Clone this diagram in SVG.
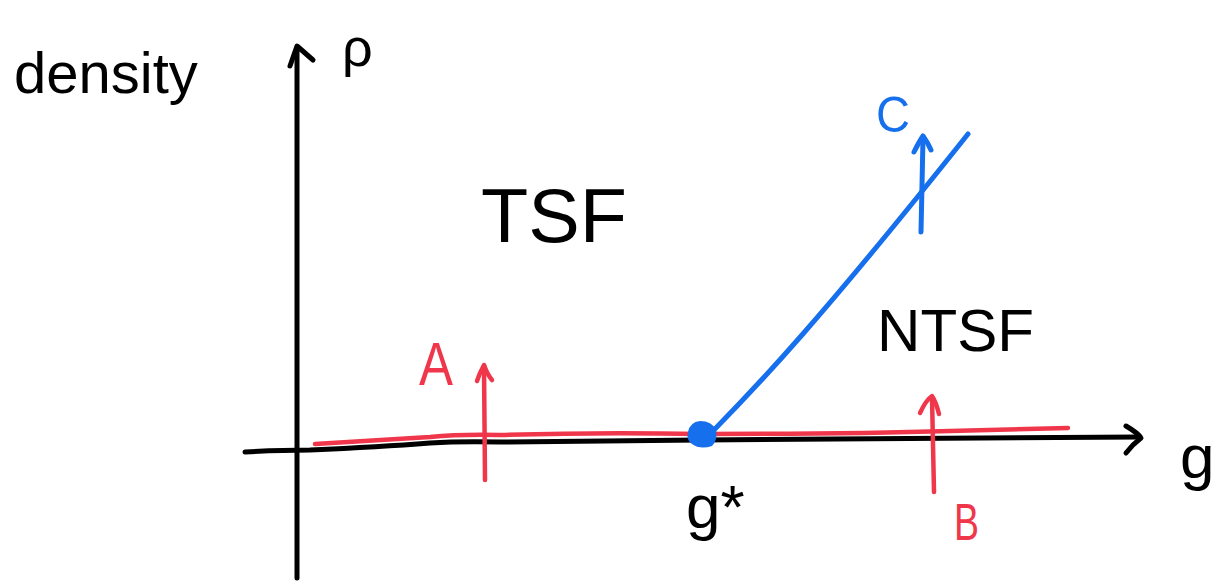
<svg xmlns="http://www.w3.org/2000/svg" width="1222" height="584" viewBox="0 0 1222 584">
<style>
.k{fill:none;stroke:#000;stroke-width:5;stroke-linecap:round;stroke-linejoin:round}
.r{fill:none;stroke:#f0364a;stroke-width:4.5;stroke-linecap:round;stroke-linejoin:round}
.b{fill:none;stroke:#1670ee;stroke-width:5;stroke-linecap:round;stroke-linejoin:round}
.t{font-family:"Liberation Sans",Arial,sans-serif}
</style>
<rect width="1222" height="584" fill="#fff"/>
<g id="labels">
<text class="t" x="14" y="93" font-size="58" fill="#000">density</text>
<text class="t" x="342" y="66" font-size="54" fill="#000">ρ</text>
<text class="t" x="481" y="242" font-size="76" fill="#000" textLength="146" lengthAdjust="spacingAndGlyphs">TSF</text>
<text class="t" x="877" y="351" font-size="60" fill="#000" textLength="157" lengthAdjust="spacingAndGlyphs">NTSF</text>
<text class="t" x="686" y="528" font-size="62" fill="#000">g*</text>
<text class="t" x="1180" y="478" font-size="62" fill="#000">g</text>
</g>
<g id="connectors">
<g id="axes">
<path class="k" d="M297 578 L297 48"/>
<path class="k" d="M290 66 L297 46 L313 60"/>
<path class="k" d="M245 452 Q280 450 310 450 Q380 447 430 443 Q460 441 500 442 L700 440 L1140 437"/>
<path class="k" d="M1126 426 Q1138 433 1141 438 Q1133 444 1126 453"/>
</g>
<g id="red-line">
<path class="r" d="M315 444 Q380 440 430 437 Q460 434 500 435 Q600 432 700 434 Q850 434 950 431 L1068 428"/>
</g>
<g id="blue-curve">
<path class="b" d="M713 431 C760 383 820 320 968 134"/>
</g>
</g>
<g id="point-gstar">
<path d="M688 432 Q690 422 700 421 Q712 421 716 430 Q718 440 712 446 Q700 450 692 444 Q686 440 688 432 Z" fill="#1670ee"/>
</g>
<g id="arrow-A">
<path class="r" d="M485 480 L484 366"/>
<path class="r" d="M477 381 Q480 372 484 365 Q487 374 492 380"/>
<text class="t" x="419" y="385" font-size="62" fill="#f0364a" textLength="34" lengthAdjust="spacingAndGlyphs">A</text>
</g>
<g id="arrow-B">
<path class="r" d="M934 492 L932 397"/>
<path class="r" d="M920 413 Q926 400 932 396 Q936 402 939 414"/>
<text class="t" x="954" y="540" font-size="52" fill="#f0364a" textLength="25" lengthAdjust="spacingAndGlyphs">B</text>
</g>
<g id="arrow-C">
<path class="b" d="M921 232 L923 138"/>
<path class="b" d="M914 152 Q919 142 923 136 Q928 143 931 150"/>
<text class="t" x="876" y="132" font-size="50" fill="#1670ee" textLength="34" lengthAdjust="spacingAndGlyphs">C</text>
</g>
</svg>
